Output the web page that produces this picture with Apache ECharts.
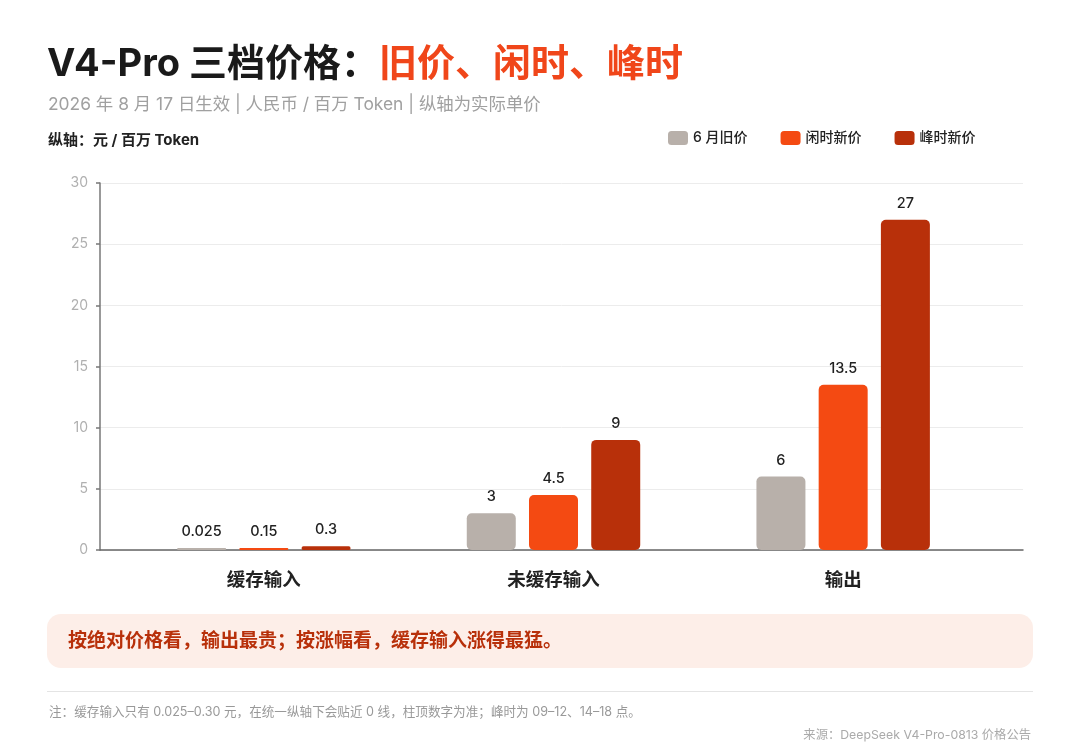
<!DOCTYPE html>
<html>
<head>
<meta charset="utf-8">
<script src="https://cdn.jsdelivr.net/npm/echarts@6/dist/echarts.min.js"></script>
<style>
  html, body { margin: 0; padding: 0; background: #fff; }
  #chart { width: 1080px; height: 749px; }
</style>
</head>
<body>
<div id="chart"></div>
<script>
var FONT = 'Inter, "Noto Sans CJK SC", sans-serif';

// 数据
var categories = ['缓存输入', '未缓存输入', '输出'];
var seriesNames = ['6 月旧价', '闲时新价', '峰时新价'];
var oldPrice = [0.025, 3, 6];
var idlePrice = [0.15, 4.5, 13.5];
var peakPrice = [0.3, 9, 27];
var yTicks = [0, 5, 10, 15, 20, 25, 30];

var colors = ['#b8b0aa', '#f44a12', '#b8300a'];

function barSeries(name, data, color) {
    return {
        name: name,
        type: 'bar',
        xAxisIndex: 1,
        yAxisIndex: 1,
        data: data,
        barWidth: 49,
        barGap: '27%',
        barMinHeight: 2,
        itemStyle: { color: color, borderRadius: 5 },
        label: {
            show: true,
            position: 'top',
            distance: 9,
            color: '#222',
            fontSize: 14.5,
            fontWeight: 500,
            fontFamily: FONT
        }
    };
}

var myChart = echarts.init(document.getElementById('chart'));

var option = {
    backgroundColor: '#fff',
    animation: false,
    title: [
        {
            left: 42,
            top: 41,
            text: '{a|V4-Pro 三档价格：}{b|旧价、闲时、峰时}',
            textStyle: {
                rich: {
                    a: { fontSize: 38, fontWeight: 'bold', color: '#1a1a1a', fontFamily: FONT },
                    b: { fontSize: 38, fontWeight: 'bold', color: '#f0461a', fontFamily: FONT }
                }
            }
        },
        {
            left: 43,
            top: 91,
            text: '2026 年 8 月 17 日生效 | 人民币 / 百万 Token | 纵轴为实际单价',
            textStyle: { fontSize: 17.4, fontWeight: 'normal', color: '#a0a0a0', fontFamily: FONT }
        },
        {
            left: 43,
            top: 128,
            text: '纵轴：元 / 百万 Token',
            textStyle: { fontSize: 15, fontWeight: 'bold', color: '#222', fontFamily: FONT }
        }
    ],
    legend: {
        left: 663,
        top: 126,
        icon: 'roundRect',
        itemWidth: 20,
        itemHeight: 14,
        itemGap: 33,
        data: seriesNames,
        textStyle: { fontSize: 14, fontWeight: 500, color: '#222', fontFamily: FONT }
    },
    grid: [
        { left: 100, right: 57, top: 183, bottom: 199 },
        { left: 119, right: 92, top: 183, bottom: 199 }
    ],
    xAxis: [
        {
            gridIndex: 0,
            type: 'value',
            min: 0,
            max: 1,
            axisLine: { show: true, lineStyle: { color: '#666', width: 1.5 } },
            axisTick: { show: false },
            axisLabel: { show: false },
            splitLine: { show: false }
        },
        {
            gridIndex: 1,
            type: 'category',
            data: categories,
            axisLine: { show: false },
            axisTick: { show: false },
            axisLabel: {
                margin: 21,
                fontSize: 18.5,
                fontWeight: 'bold',
                color: '#222',
                fontFamily: FONT
            }
        }
    ],
    yAxis: [
        {
            gridIndex: 0,
            type: 'value',
            min: yTicks[0],
            max: yTicks[yTicks.length - 1],
            interval: 5,
            axisLine: { show: true, lineStyle: { color: '#777', width: 1.5 } },
            axisTick: { show: true, length: 4, lineStyle: { color: '#777', width: 1.5 } },
            axisLabel: { margin: 12, fontSize: 14, color: '#b0b0b0', fontFamily: FONT },
            splitLine: { show: true, lineStyle: { color: '#ececec', width: 1 } }
        },
        {
            gridIndex: 1,
            type: 'value',
            min: yTicks[0],
            max: yTicks[yTicks.length - 1],
            show: false
        }
    ],
    series: [
        barSeries(seriesNames[0], oldPrice, colors[0]),
        barSeries(seriesNames[1], idlePrice, colors[1]),
        barSeries(seriesNames[2], peakPrice, colors[2])
    ],
    graphic: [
        {
            type: 'rect',
            left: 47,
            top: 614,
            shape: { width: 986, height: 54, r: 14 },
            style: { fill: '#fdeee8' }
        },
        {
            type: 'text',
            left: 68,
            top: 632,
            style: {
                text: '按绝对价格看，输出最贵；按涨幅看，缓存输入涨得最猛。',
                fill: '#b8300a',
                font: 'bold 19px ' + FONT
            }
        },
        {
            type: 'rect',
            left: 47,
            top: 691,
            shape: { width: 986, height: 1 },
            style: { fill: '#e4e4e4' }
        },
        {
            type: 'text',
            left: 49,
            top: 706,
            style: {
                text: '注：缓存输入只有 0.025–0.30 元，在统一纵轴下会贴近 0 线，柱顶数字为准；峰时为 09–12、14–18 点。',
                fill: '#999',
                font: '12.6px ' + FONT
            }
        },
        {
            type: 'text',
            right: 49,
            top: 729,
            style: {
                text: '来源：DeepSeek V4-Pro-0813 价格公告',
                fill: '#aaa',
                font: '12.3px ' + FONT
            }
        }
    ]
};

myChart.setOption(option);
</script>
</body>
</html>
